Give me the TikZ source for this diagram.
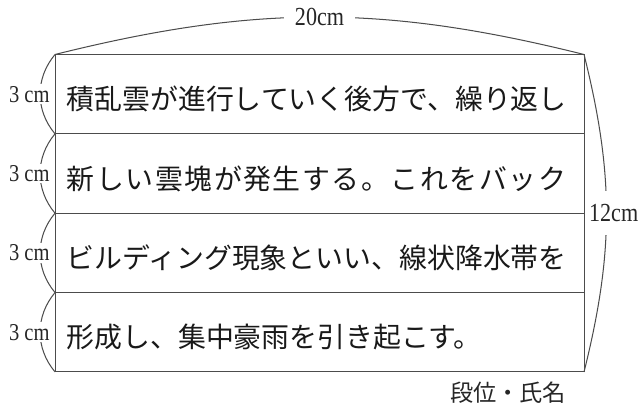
\documentclass[tikz,border=0pt]{standalone}
\usepackage{fontspec}
\newfontfamily\jpfont{Noto Sans CJK JP}
\newfontfamily\jpwide[LetterSpace=5.7]{Noto Sans CJK JP}
\newfontfamily\cmfont[FakeStretch=0.85]{Liberation Serif}
\begin{document}
\begin{tikzpicture}[color=black!70, line width=1.1pt,
  rowtext/.style={anchor=base west,inner sep=0pt,text=black!90,font=\jpfont\fontsize{30}{30}\selectfont},
  cmlabel/.style={fill=white,inner xsep=1pt,inner ysep=2pt,text=black!85,font=\cmfont\fontsize{26}{26}\selectfont},
  lenlabel/.style={fill=white,text=black!85,font=\cmfont\fontsize{28}{28}\selectfont}]
  \useasboundingbox (-2.08,-1.44) rectangle (22.04,14.06);
  \draw (0,0) rectangle (20,12);
  \draw (0,3) -- (20,3) (0,6) -- (20,6) (0,9) -- (20,9);
  \draw (0,12) to[bend left=14] node[lenlabel,inner xsep=0.42cm,inner ysep=2pt] (width) {20cm} (20,12);
  \draw (20,12) to[bend left=14] node[lenlabel,inner xsep=1pt,inner ysep=0.5cm,xshift=0.27cm] (height) {12cm} (20,0);
  \draw (0,12) to[bend right=40] node[cmlabel,xshift=-0.41cm] (row1) {3 cm} (0,9);
  \draw (0,9) to[bend right=40] node[cmlabel,xshift=-0.41cm] (row2) {3 cm} (0,6);
  \draw (0,6) to[bend right=40] node[cmlabel,xshift=-0.41cm] (row3) {3 cm} (0,3);
  \draw (0,3) to[bend right=40] node[cmlabel,xshift=-0.41cm] (row4) {3 cm} (0,0);
  \node[rowtext] (line1) at (0.42,9.91) {積乱雲が進行していく後方で、繰り返し};
  \node[rowtext,font=\jpwide\fontsize{30}{30}\selectfont] (line2) at (0.42,6.91) {新しい雲塊が発生する。これをバック};
  \node[rowtext] (line3) at (0.42,3.91) {ビルディング現象といい、線状降水帯を};
  \node[rowtext] (line4) at (0.42,0.91) {形成し、集中豪雨を引き起こす。};
  \node[text=black!85,font=\jpfont\fontsize{25}{25}\selectfont] (sign) at (17.13,-0.79) {段位・氏名};
\end{tikzpicture}
\end{document}
